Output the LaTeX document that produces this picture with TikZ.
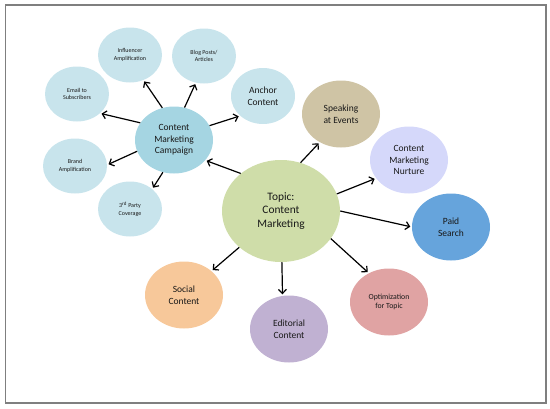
\documentclass[tikz,border=0pt]{standalone}
\usepackage{fontspec}
\setmainfont{Carlito}
\usetikzlibrary{shapes.geometric,arrows.meta}
\definecolor{smallblue}{HTML}{C8E4EC}
\definecolor{campblue}{HTML}{A5D5E2}
\definecolor{topicgreen}{HTML}{CFDDA9}
\definecolor{speaktan}{HTML}{CFC4A5}
\definecolor{nurturelav}{HTML}{D5D8FA}
\definecolor{paidblue}{HTML}{66A4DC}
\definecolor{socialorange}{HTML}{F7C89A}
\definecolor{editpurple}{HTML}{C0B1D2}
\definecolor{optred}{HTML}{E0A3A3}
\definecolor{framegray}{HTML}{7F7F7F}
\begin{document}
\begin{tikzpicture}[x=1pt,y=-1pt,
  bub/.style={ellipse, inner sep=0pt, align=center, text=black!90},
  sm/.style={bub, fill=smallblue, minimum width=64pt, minimum height=55pt, font=\fontsize{6}{7.7}\selectfont},
  md/.style={bub, minimum width=78pt, minimum height=67pt, font=\fontsize{9.5}{11.5}\selectfont},
  arr/.style={-{Straight Barb[length=4pt,width=8pt]}, line width=1.2pt, shorten >=1.5pt},
  frame/.style={draw=framegray, line width=1.6pt}]
\useasboundingbox (0,0) rectangle (550,408);
\draw[frame] (5.5,5) rectangle (546,403);

% small nodes
\node[sm] (infl) at (130,55) {Influencer\\Amplification};
\node[sm] (blog) at (204,56) {Blog Posts/\\Articles};
\node[sm] (email) at (77,94) {Email to\\Subscribers};
\node[sm] (brand) at (75,166) {Brand\\Amplification};
\node[sm] (third) at (130,209) {3\textsuperscript{rd} Party\\Coverage};
\node[sm, minimum height=56pt, font=\fontsize{9.5}{11.5}\selectfont] (anchor) at (263,96) {Anchor\\Content};

% medium nodes
\node[md, fill=campblue] (camp) at (174,140) {Content\\Marketing\\Campaign};
\node[md, fill=speaktan] (speak) at (341,114) {Speaking\\at Events};
\node[md, fill=nurturelav] (nurt) at (409,160) {Content\\Marketing\\Nurture};
\node[md, fill=paidblue] (paid) at (451,227) {Paid\\Search};
\node[md, fill=socialorange] (social) at (184,295) {Social\\Content};
\node[md, fill=editpurple] (edit) at (289,329) {Editorial\\Content};
\node[md, fill=optred, font=\fontsize{7.8}{9.8}\selectfont] (opt) at (389,302) {Optimization\\for Topic};

% topic
\node[bub, fill=topicgreen, minimum width=118pt, minimum height=102pt, font=\fontsize{11.4}{13.2}\selectfont] (topic) at (281,211) {Topic:\\Content\\Marketing};

% arrows from campaign
\draw[arr] (camp.110) -- (infl.298);
\draw[arr] (camp.72) -- (blog.253);
\draw[arr] (camp.153) -- (email.320);
\draw[arr] (camp.22) -- (anchor.221);
\draw[arr] (camp.197) -- (brand.2);
\draw[arr] (camp.251) -- (third.42);

% arrows from topic
\draw[arr] (topic.137) -- (camp.327);
\draw[arr] (topic.68) -- (speak.233);
\draw[arr] (topic.17) -- (nurt.209);
\draw[arr] (topic.0) -- (paid.180);
\draw[arr] (topic.221) -- (social.41);
\draw[arr] (topic.271) -- (edit.101);
\draw[arr] (topic.331) -- (opt.125);
\end{tikzpicture}
\end{document}
